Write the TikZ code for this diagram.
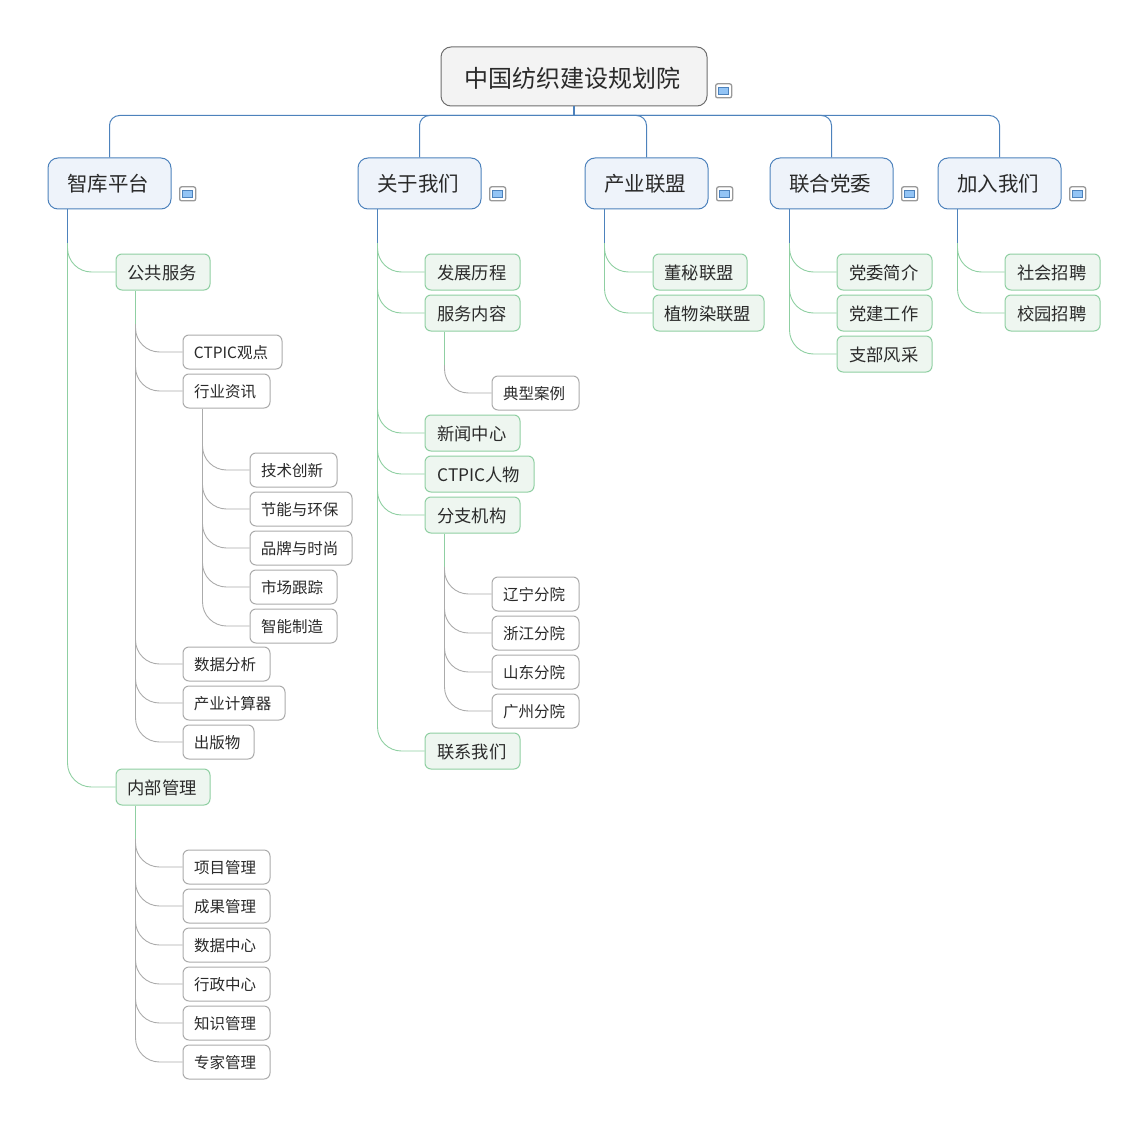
\documentclass[tikz,border=0pt]{standalone}
\usepackage{fontspec}
\setmainfont{Noto Sans CJK SC}
\usetikzlibrary{calc}
\definecolor{rootfill}{HTML}{F3F3F3}
\definecolor{rootline}{HTML}{6E6E6E}
\definecolor{bluefill}{HTML}{EEF3FA}
\definecolor{blueline}{HTML}{4D82BC}
\definecolor{greenfill}{HTML}{EEF6F0}
\definecolor{greenline}{HTML}{8FCFA2}
\definecolor{grayline}{HTML}{ABABAB}
\definecolor{textc}{HTML}{2A2A2A}
\definecolor{iconblue}{HTML}{93C4F5}
\tikzset{
 box/.style={draw,inner sep=0pt,text=textc,line width=1pt,anchor=center},
 rootbox/.style={box,draw=rootline,fill=rootfill,rounded corners=10pt,font=\fontsize{24}{28}\selectfont},
 bluebox/.style={box,draw=blueline,fill=bluefill,rounded corners=10pt,font=\fontsize{20.5}{24}\selectfont},
 greenbox/.style={box,draw=greenline,fill=greenfill,rounded corners=6pt,font=\fontsize{17.3}{20}\selectfont},
 graybox/.style={box,draw=grayline,fill=white,rounded corners=6pt,font=\fontsize{15.5}{18}\selectfont},
 iconbox/.style={draw=black!40,fill=white,line width=1.3pt,rounded corners=2pt,minimum width=16pt,minimum height=14pt,inner sep=0pt},
 iconfill/.style={draw=blueline,fill=iconblue,line width=.6pt,minimum width=10pt,minimum height=7.5pt,inner sep=0pt},
 bus/.style={draw=blueline,line width=1pt,rounded corners=10pt},
 limb/.style={line width=.9pt,rounded corners=24pt},
 stem/.style={line width=1pt},
}
\newcommand\nd[7]{\node[#1,minimum width={(#4-#3)*1pt},minimum height={(#6-#5)*1pt}] (#2) at ({(#3+#4)/2},{(#5+#6)/2}) {#7};}
% text nudges, box stays put
\newcommand\tr[1]{\hspace*{-4pt}\raisebox{-2pt}[\height][\depth]{#1}}
\newcommand\tb[1]{\hspace*{-2.5pt}\raisebox{-.5pt}[\height][\depth]{#1}}
\newcommand\tg[1]{\hspace*{-1.5pt}\raisebox{-.7pt}[\height][\depth]{#1}}
\newcommand\ty[1]{\hspace*{-3pt}\raisebox{-1pt}[\height][\depth]{#1}}
\newcommand\noteicon[1]{\node[iconbox,anchor=south west] (#1-icon) at ($(#1.south east)+(7.5,-8)$) {};\node[iconfill] (#1-iconin) at (#1-icon) {};}
% parent, child, child-line colour
\newcommand\limbto[3]{\draw[limb,draw=#3] ($(#1.south west)+(20,33)$) |- (#2.west);}
\newcommand\stemof[2]{\draw[stem,draw=#2] ($(#1.south west)+(20,0)$) -- ($(#1.south west)+(20,33)$);}
\begin{document}
\begin{tikzpicture}[x=1pt,y=-1pt]
\useasboundingbox (0,0) rectangle (1148,1126);
\nd{rootbox}{root}{441}{707}{47}{106}{\tr{中国纺织建设规划院}}
\nd{bluebox}{a}{48}{171}{158}{209}{\tb{智库平台}}
\nd{bluebox}{b}{358}{481}{158}{209}{\tb{关于我们}}
\nd{bluebox}{c}{585}{708}{158}{209}{\tb{产业联盟}}
\nd{bluebox}{d}{770}{893}{158}{209}{\tb{联合党委}}
\nd{bluebox}{e}{938}{1061}{158}{209}{\tb{加入我们}}
% 智库平台
\nd{greenbox}{a1}{116}{210}{254}{290}{\tg{公共服务}}
\nd{greenbox}{a2}{116}{210}{769}{805}{\tg{内部管理}}
\nd{graybox}{a11}{183}{282}{335}{369}{\ty{CTPIC观点}}
\nd{graybox}{a12}{183}{270}{374}{408}{\ty{行业资讯}}
\nd{graybox}{a121}{250}{337}{453}{487}{\ty{技术创新}}
\nd{graybox}{a122}{250}{352}{492}{526}{\ty{节能与环保}}
\nd{graybox}{a123}{250}{352}{531}{565}{\ty{品牌与时尚}}
\nd{graybox}{a124}{250}{337}{570}{604}{\ty{市场跟踪}}
\nd{graybox}{a125}{250}{337}{609}{643}{\ty{智能制造}}
\nd{graybox}{a13}{183}{270}{647}{681}{\ty{数据分析}}
\nd{graybox}{a14}{183}{285}{686}{720}{\ty{产业计算器}}
\nd{graybox}{a15}{183}{254}{725}{759}{\ty{出版物}}
\nd{graybox}{a21}{183}{270}{850}{884}{\ty{项目管理}}
\nd{graybox}{a22}{183}{270}{889}{923}{\ty{成果管理}}
\nd{graybox}{a23}{183}{270}{928}{962}{\ty{数据中心}}
\nd{graybox}{a24}{183}{270}{967}{1001}{\ty{行政中心}}
\nd{graybox}{a25}{183}{270}{1006}{1040}{\ty{知识管理}}
\nd{graybox}{a26}{183}{270}{1045}{1079}{\ty{专家管理}}
% 关于我们
\nd{greenbox}{b1}{425}{520}{254}{290}{\tg{发展历程}}
\nd{greenbox}{b2}{425}{520}{295}{331}{\tg{服务内容}}
\nd{graybox}{b21}{492}{579}{376}{410}{\ty{典型案例}}
\nd{greenbox}{b3}{425}{520}{415}{451}{\tg{新闻中心}}
\nd{greenbox}{b4}{425}{534}{456}{492}{\tg{CTPIC人物}}
\nd{greenbox}{b5}{425}{520}{497}{533}{\tg{分支机构}}
\nd{graybox}{b51}{492}{579}{577}{611}{\ty{辽宁分院}}
\nd{graybox}{b52}{492}{579}{616}{650}{\ty{浙江分院}}
\nd{graybox}{b53}{492}{579}{655}{689}{\ty{山东分院}}
\nd{graybox}{b54}{492}{579}{694}{728}{\ty{广州分院}}
\nd{greenbox}{b6}{425}{520}{733}{769}{\tg{联系我们}}
% 产业联盟
\nd{greenbox}{c1}{653}{747}{254}{290}{\tg{董秘联盟}}
\nd{greenbox}{c2}{653}{764}{295}{331}{\tg{植物染联盟}}
% 联合党委
\nd{greenbox}{d1}{837}{932}{254}{290}{\tg{党委简介}}
\nd{greenbox}{d2}{837}{932}{295}{331}{\tg{党建工作}}
\nd{greenbox}{d3}{837}{932}{336}{372}{\tg{支部风采}}
% 加入我们
\nd{greenbox}{e1}{1005}{1100}{254}{290}{\tg{社会招聘}}
\nd{greenbox}{e2}{1005}{1100}{295}{331}{\tg{校园招聘}}
% top bus
\coordinate (busc) at ($(root.south)+(0,9)$);
\foreach \k in {a,b,c,d,e}{\draw[bus] (busc) -| (\k.north);}
\draw[draw=blueline,line width=1.5pt] (root.south) -- (busc);
% limbs
\foreach \k in {a1,a2}{\limbto{a}{\k}{greenline}}
\stemof{a}{blueline}
\foreach \k in {a11,a12,a13,a14,a15}{\limbto{a1}{\k}{grayline}}
\stemof{a1}{greenline}
\foreach \k in {a121,a122,a123,a124,a125}{\limbto{a12}{\k}{grayline}}
\stemof{a12}{grayline}
\foreach \k in {a21,a22,a23,a24,a25,a26}{\limbto{a2}{\k}{grayline}}
\stemof{a2}{greenline}
\foreach \k in {b1,b2,b3,b4,b5,b6}{\limbto{b}{\k}{greenline}}
\stemof{b}{blueline}
\limbto{b2}{b21}{grayline}
\stemof{b2}{greenline}
\foreach \k in {b51,b52,b53,b54}{\limbto{b5}{\k}{grayline}}
\stemof{b5}{greenline}
\foreach \k in {c1,c2}{\limbto{c}{\k}{greenline}}
\stemof{c}{blueline}
\foreach \k in {d1,d2,d3}{\limbto{d}{\k}{greenline}}
\stemof{d}{blueline}
\foreach \k in {e1,e2}{\limbto{e}{\k}{greenline}}
\stemof{e}{blueline}
% note icons
\noteicon{root}\noteicon{a}\noteicon{b}\noteicon{c}\noteicon{d}\noteicon{e}
\end{tikzpicture}
\end{document}
